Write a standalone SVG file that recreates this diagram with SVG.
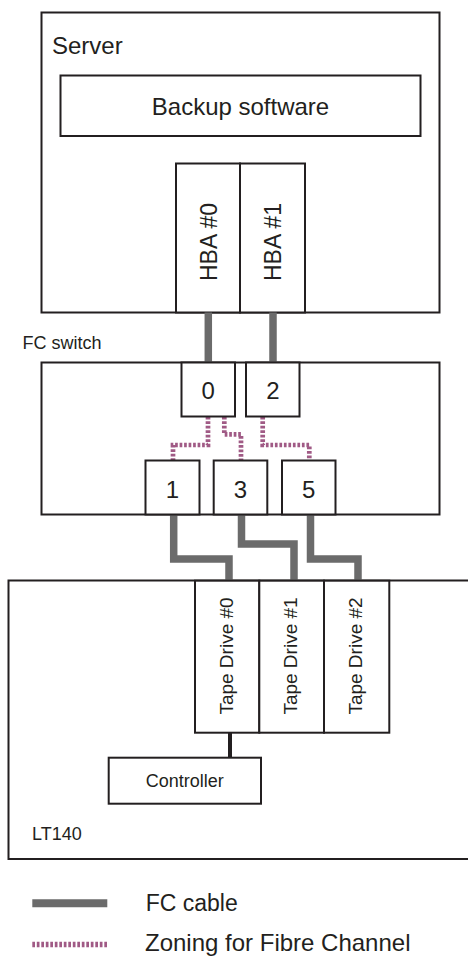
<svg xmlns="http://www.w3.org/2000/svg" width="468" height="958" viewBox="0 0 468 958">
<style>
.box{fill:#fff;stroke:#231f20;stroke-width:2}
.t{font-family:"Liberation Sans",Arial,sans-serif;fill:#231f20}
.fc{fill:none;stroke:#6b6b6b;stroke-width:7.5;stroke-linejoin:miter}
.zone{fill:none;stroke:#a05a85;stroke-width:4.7;stroke-dasharray:2.7 1.8}
</style>
<rect width="468" height="958" fill="#fff"/>
<g id="server">
<rect class="box" x="41.5" y="12.5" width="398" height="300"/>
<text class="t" x="52" y="54" font-size="24">Server</text>
</g>
<g id="backup-software">
<rect class="box" x="60.5" y="75.5" width="360" height="60.5"/>
<text class="t" x="240.5" y="115" font-size="24" text-anchor="middle">Backup software</text>
</g>
<g id="hba0">
<rect class="box" x="176" y="163.5" width="64" height="149"/>
<text class="t" font-size="23" text-anchor="middle" transform="translate(216.5,242) rotate(-90)">HBA #0</text>
</g>
<g id="hba1">
<rect class="box" x="240" y="163.5" width="65" height="149"/>
<text class="t" font-size="23" text-anchor="middle" transform="translate(281,242) rotate(-90)">HBA #1</text>
</g>
<g id="fc-switch">
<rect class="box" x="41.5" y="362.5" width="398" height="152"/>
<text class="t" x="22.5" y="349" font-size="18">FC switch</text>
</g>
<g id="lt140">
<rect class="box" x="8.5" y="580.5" width="470" height="278.5"/>
<text class="t" x="32" y="840" font-size="18">LT140</text>
</g>
<g id="connectors">
<path class="fc" d="M208.3 312.5V362.5"/>
<path class="fc" d="M273 312.5V362.5"/>
<path class="fc" d="M173.7 514.5V559H229V580.5"/>
<path class="fc" d="M241.5 514.5V544H294V580.5"/>
<path class="fc" d="M310.5 514.5V559H358V580.5"/>
<path class="zone" d="M208 416.7V445H173V460.7"/>
<path class="zone" d="M224.3 416.7V434.3H241V460.7"/>
<path class="zone" d="M262.7 416.7V445H309.3V460.7"/>
<path d="M230 732.7V757.7" stroke="#231f20" stroke-width="4" fill="none"/>
</g>
<g id="port0">
<rect class="box" x="181.5" y="362.5" width="53.5" height="54"/>
<text class="t" x="208.3" y="399.3" font-size="24" text-anchor="middle">0</text>
</g>
<g id="port2">
<rect class="box" x="246" y="362.5" width="53.5" height="54"/>
<text class="t" x="273" y="399.3" font-size="24" text-anchor="middle">2</text>
</g>
<g id="port1">
<rect class="box" x="145.5" y="460.5" width="54" height="54"/>
<text class="t" x="172.5" y="497.5" font-size="24" text-anchor="middle">1</text>
</g>
<g id="port3">
<rect class="box" x="213.7" y="460.5" width="53.6" height="54"/>
<text class="t" x="240.5" y="497.5" font-size="24" text-anchor="middle">3</text>
</g>
<g id="port5">
<rect class="box" x="282" y="460.5" width="53.5" height="54"/>
<text class="t" x="308.7" y="497.5" font-size="24" text-anchor="middle">5</text>
</g>
<g id="tape-drive0">
<rect class="box" x="195" y="580.7" width="64.3" height="152"/>
<text class="t" font-size="19" text-anchor="middle" transform="translate(232.5,656) rotate(-90)">Tape Drive #0</text>
</g>
<g id="tape-drive1">
<rect class="box" x="259.3" y="580.7" width="64.7" height="152"/>
<text class="t" font-size="19" text-anchor="middle" transform="translate(297,656) rotate(-90)">Tape Drive #1</text>
</g>
<g id="tape-drive2">
<rect class="box" x="324" y="580.7" width="65.3" height="152"/>
<text class="t" font-size="19" text-anchor="middle" transform="translate(362,656) rotate(-90)">Tape Drive #2</text>
</g>
<g id="controller">
<rect class="box" x="108.7" y="757.7" width="152.3" height="46"/>
<text class="t" x="184.8" y="787.3" font-size="18" text-anchor="middle">Controller</text>
</g>
<g id="legend">
<path d="M32.3 903.3H107.3" stroke="#6b6b6b" stroke-width="8" fill="none"/>
<text class="t" x="145.7" y="910.7" font-size="23">FC cable</text>
<path d="M32.3 944.5H107.3" stroke="#a05a85" stroke-width="5.5" stroke-dasharray="2.7 1.8" fill="none"/>
<text class="t" x="145" y="951" font-size="24">Zoning for Fibre Channel</text>
</g>
</svg>
